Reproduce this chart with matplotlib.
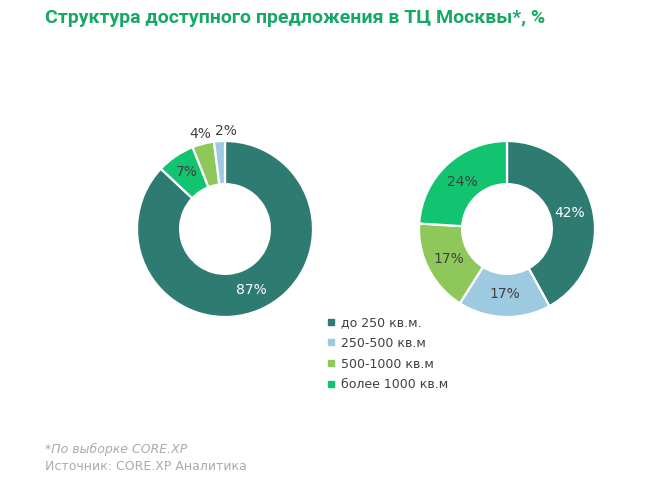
import matplotlib
matplotlib.use('Agg')
import matplotlib.pyplot as plt
from matplotlib.lines import Line2D
import numpy as np

# data
categories = ['до 250 кв.м.', '250-500 кв.м', '500-1000 кв.м', 'более 1000 кв.м']
colors = ['#2e7b72', '#9ecae1', '#8fc85a', '#12c46f']

# left donut: slices go clockwise from top as drawn
left_values = [87, 7, 4, 2]
left_colors = [colors[0], colors[3], colors[2], colors[1]]

# right donut, same order as legend
right_values = [42, 17, 17, 24]

W, H = 663, 490
fig = plt.figure(figsize=(W / 100, H / 100), dpi=100)
fig.patch.set_facecolor('white')


def donut(cx, cy, r, values, cols, label_r):
    ax = fig.add_axes([(cx - r) / W, 1 - (cy + r) / H, 2 * r / W, 2 * r / H])
    wedges, _ = ax.pie(values, colors=cols, startangle=90, counterclock=False,
                       radius=1, wedgeprops=dict(width=0.49, edgecolor='white', linewidth=1.6))
    for w, v, lr in zip(wedges, values, label_r):
        ang = np.deg2rad((w.theta1 + w.theta2) / 2)
        c = 'white' if w.get_facecolor()[:3] == matplotlib.colors.to_rgb(colors[0]) else '#404040'
        ax.text(lr[0] * np.cos(ang) + lr[1], lr[0] * np.sin(ang), '%d%%' % v,
                ha='center', va='center', fontsize=10, color=c)
    ax.set_xlim(-1, 1)
    ax.set_ylim(-1, 1)
    ax.axis('off')
    return wedges


donut(225, 229, 88, left_values, left_colors,
      [(0.75, 0), (0.78, 0), (1.12, 0), (1.12, 0.08)])
wedges = donut(507, 229, 88, right_values, colors, [(0.74, 0)] * 4)

fig.text(45 / W, 1 - 18 / H, 'Структура доступного предложения в ТЦ Москвы*, %',
         fontsize=14, fontweight='bold', family='Roboto', color='#17a865',
         va='center', ha='left')

handles = [Line2D([], [], marker='s', linestyle='none', markersize=4.5,
                  markerfacecolor=c, markeredgecolor=c) for c in colors]
leg = fig.legend(handles, categories, loc='upper left',
                 bbox_to_anchor=(322 / W, 1 - 311 / H), frameon=False,
                 fontsize=9, handlelength=0.6, handletextpad=0.5,
                 labelspacing=0.62, borderaxespad=0)
for t in leg.get_texts():
    t.set_color('#404040')

fig.text(45 / W, 1 - 449 / H, '*По выборке CORE.XP', fontsize=9,
         style='italic', color='#a3adb3', va='center')
fig.text(45 / W, 1 - 466 / H, 'Источник: CORE.XP Аналитика', fontsize=9,
         color='#a3adb3', va='center')

fig.savefig('out.png', dpi=100, facecolor='white')
